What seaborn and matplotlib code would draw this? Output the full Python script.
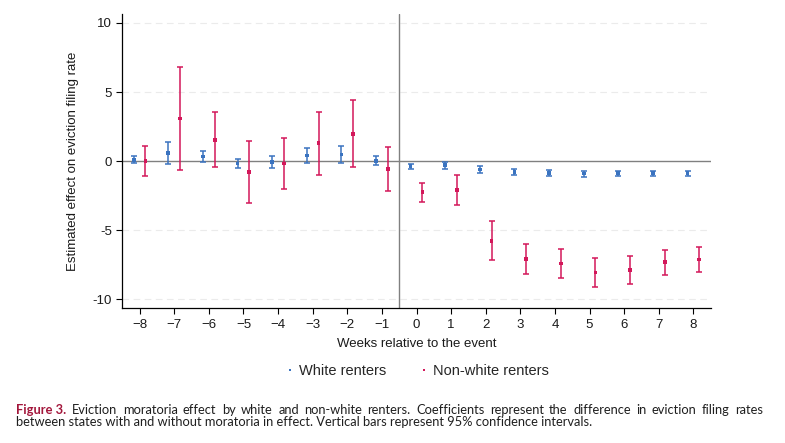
import numpy as np
import pandas as pd
import matplotlib
matplotlib.use("Agg")
import matplotlib.pyplot as plt
import seaborn as sns
from matplotlib import font_manager as fm

# ---- data ----
weeks = [-8, -7, -6, -5, -4, -3, -2, -1, 0, 1, 2, 3, 4, 5, 6, 7, 8]
white_est = [0.07, 0.60, 0.34, -0.17, -0.05, 0.41, 0.48, 0.02, -0.37, -0.27, -0.61, -0.77, -0.85, -0.90, -0.87, -0.87, -0.85]
white_lo = [-0.17, -0.19, -0.07, -0.51, -0.51, -0.12, -0.12, -0.29, -0.55, -0.56, -0.85, -0.99, -1.07, -1.14, -1.11, -1.11, -1.07]
white_hi = [0.36, 1.38, 0.77, 0.12, 0.36, 0.92, 1.09, 0.36, -0.21, -0.07, -0.34, -0.58, -0.65, -0.70, -0.68, -0.68, -0.68]
nonwhite_est = [0.00, 3.09, 1.52, -0.80, -0.17, 1.30, 1.98, -0.58, -2.25, -2.08, -5.76, -7.09, -7.41, -8.06, -7.89, -7.31, -7.12]
nonwhite_lo = [-1.09, -0.65, -0.43, -3.04, -2.03, -1.01, -0.43, -2.17, -2.93, -3.17, -7.17, -8.18, -8.47, -9.10, -8.91, -8.26, -8.04]
nonwhite_hi = [1.09, 6.81, 3.53, 1.43, 1.67, 3.53, 4.42, 1.01, -1.57, -0.99, -4.33, -6.00, -6.37, -7.02, -6.87, -6.44, -6.22]
groups = ["White renters", "Non-white renters"]
yticks = [-10, -5, 0, 5, 10]
xlabel = "Weeks relative to the event"
ylabel = "Estimated effect on eviction filing rate"
caption_head = "Figure 3."
caption_line1 = ("Eviction moratoria effect by white and non-white renters. Coefficients represent the difference in eviction filing rates")
caption_line2 = "between states with and without moratoria in effect. Vertical bars represent 95% confidence intervals."

blue = "#3a73c0"
red = "#d3175a"
offsets = {"White renters": -0.17, "Non-white renters": 0.17}

rows = []
for g, est, lo, hi in [(groups[0], white_est, white_lo, white_hi), (groups[1], nonwhite_est, nonwhite_lo, nonwhite_hi)]:
    for w, e, l, h in zip(weeks, est, lo, hi):
        rows.append(dict(week=w, pos=w + offsets[g], est=e, lo=l, hi=h, group=g))
df = pd.DataFrame(rows)

sns.set_theme(style="white")
plt.rcParams["font.family"] = ["Liberation Sans", "DejaVu Sans"]

fig = plt.figure(figsize=(7.85, 4.43), dpi=100)
ax = fig.add_axes([122.3 / 785, 1 - 308.3 / 443, (710.7 - 122.3) / 785, (308.3 - 14) / 443])

# gridlines
for t in yticks:
    if t != 0:
        ax.axhline(t, color="#ebebeb", lw=0.8, ls=(0, (6, 4)), zorder=0)
ax.axhline(0, color="#808080", lw=1.0, zorder=1)
ax.axvline(-0.5, color="#808080", lw=1.0, zorder=1)

palette = {groups[0]: blue, groups[1]: red}
for g in groups:
    sub = df[df.group == g]
    ax.errorbar(sub.pos, sub.est, yerr=[sub.est - sub.lo, sub.hi - sub.est], fmt="none",
                ecolor=palette[g], elinewidth=1.1, capsize=2.4, capthick=1.1, zorder=2)

sns.scatterplot(data=df, x="pos", y="est", hue="group", palette=palette, marker="s",
                s=7, linewidth=0, ax=ax, zorder=3, legend=True)

ax.set_xlim(-8.5, 8.5)
ax.set_ylim(-10.65, 10.65)
ax.set_xticks(weeks)
ax.set_xticklabels([str(w).replace("-", "\u2212") for w in weeks])
ax.set_yticks(yticks)
ax.set_yticklabels([str(t) for t in yticks])
ax.tick_params(axis="both", which="both", direction="out", length=4.5, width=0.8,
               color="black", labelsize=9.5, labelcolor="#1a1a1a", pad=3, bottom=True, left=True)
for s in ["top", "right"]:
    ax.spines[s].set_visible(False)
for s in ["left", "bottom"]:
    ax.spines[s].set_color("black")
    ax.spines[s].set_linewidth(0.9)
ax.set_xlabel(xlabel, fontsize=9.5, color="#1a1a1a", labelpad=5)
ax.set_ylabel(ylabel, fontsize=9.5, color="#1a1a1a", labelpad=10)

handles, labels = ax.get_legend_handles_labels()
ax.legend(handles=handles, labels=labels, loc="center", bbox_to_anchor=(416.5 / 785, 1 - 371 / 443),
          bbox_transform=fig.transFigure, ncol=2, frameon=False, fontsize=10.5, markerscale=0.6,
          handletextpad=0.2, columnspacing=2.2, handlelength=0.8)

# caption with justified first line
def pick_font(cands):
    for c in cands:
        try:
            fm.findfont(fm.FontProperties(family=c), fallback_to_default=False)
            return c
        except Exception:
            pass
    return "DejaVu Sans"

cap_font = pick_font(["Lato", "Roboto", "Open Sans", "Noto Sans"])
renderer = fig.canvas.get_renderer()

def width_px(s, size, weight="normal"):
    t = fig.text(0, 0, s, fontsize=size, family=cap_font, weight=weight)
    w = t.get_window_extent(renderer).width
    t.remove()
    return w

x0, x1 = 16.5, 763.0
line2_end = 599.0
y1, y2 = 1 - 413.7 / 443, 1 - 425.7 / 443
words1 = caption_line1.split(" ")
# size so that line 2 spans like the reference
base = 8.0
cap_size = base * (line2_end - x0) / width_px(caption_line2, base)
while True:
    sw = width_px("a a", cap_size) - width_px("aa", cap_size)
    items = [(caption_head, "bold", "#a3163b")] + [(w, "normal", "#1f1f1f") for w in words1]
    widths = [width_px(s, cap_size, wt) for s, wt, _ in items]
    if sum(widths) + 0.9 * sw * (len(items) - 1) <= (x1 - x0) or cap_size < 6:
        break
    cap_size -= 0.1
gap = ((x1 - x0) - sum(widths)) / (len(items) - 1)
x = x0
for (s, wt, col), w in zip(items, widths):
    fig.text(x / 785, y1, s, fontsize=cap_size, family=cap_font, weight=wt, color=col, va="baseline")
    x += w + gap
fig.text(x0 / 785, y2, caption_line2, fontsize=cap_size, family=cap_font, color="#1f1f1f", va="baseline")

fig.savefig("out.png", dpi=100)
